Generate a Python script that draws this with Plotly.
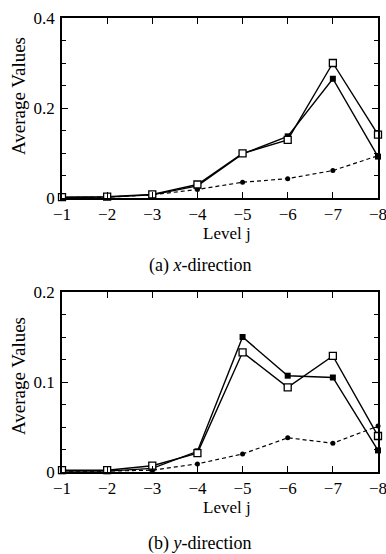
import plotly.graph_objects as go

levels = [-1, -2, -3, -4, -5, -6, -7, -8]

# (a) x-direction
xdir_open = [0.002, 0.003, 0.008, 0.030, 0.099, 0.129, 0.300, 0.141]
xdir_filled = [0.001, 0.002, 0.007, 0.027, 0.098, 0.137, 0.265, 0.092]
xdir_dashed = [0.001, 0.002, 0.007, 0.019, 0.035, 0.043, 0.061, 0.094]

# (b) y-direction
ydir_open = [0.002, 0.002, 0.007, 0.021, 0.133, 0.094, 0.129, 0.040]
ydir_filled = [0.001, 0.001, 0.004, 0.023, 0.150, 0.107, 0.105, 0.024]
ydir_dashed = [0.001, 0.001, 0.002, 0.009, 0.020, 0.038, 0.032, 0.051]

xtick_vals = levels
ytick_a = [0, 0.2, 0.4]
ytick_a_text = ["0", "0.2", "0.4"]
ytick_b = [0, 0.1, 0.2]
ytick_b_text = ["0", "0.1", "0.2"]

FONT = "Liberation Serif"
W, H = 386, 554

fig = go.Figure()

def add_series(xa, ya, op, fi, da):
    fig.add_trace(go.Scatter(x=levels, y=da, xaxis=xa, yaxis=ya, mode="lines+markers",
                             line=dict(color="black", width=1.2, dash="4px,3px"),
                             marker=dict(symbol="circle", size=5, color="black"),
                             cliponaxis=False, showlegend=False))
    fig.add_trace(go.Scatter(x=levels, y=fi, xaxis=xa, yaxis=ya, mode="lines+markers",
                             line=dict(color="black", width=1.4),
                             marker=dict(symbol="square", size=6, color="black"),
                             cliponaxis=False, showlegend=False))
    fig.add_trace(go.Scatter(x=levels, y=op, xaxis=xa, yaxis=ya, mode="lines+markers",
                             line=dict(color="black", width=1.4),
                             marker=dict(symbol="square", size=7, color="white",
                                         line=dict(color="black", width=1.3)),
                             cliponaxis=False, showlegend=False))

add_series("x", "y", xdir_open, xdir_filled, xdir_dashed)
add_series("x2", "y2", ydir_open, ydir_filled, ydir_dashed)

def py(p):
    return 1 - p / H

xdom = [62 / W, 378 / W]
common_x = dict(range=[-1, -8], tickvals=xtick_vals, ticks="inside", ticklen=6,
                tickwidth=1, tickcolor="black", showline=True, linecolor="black",
                linewidth=1.5, mirror="ticks", showgrid=False, zeroline=False,
                automargin=False, ticklabelstandoff=0, ticklabeloverflow="allow",
                tickfont=dict(family=FONT, size=17, color="black"), domain=xdom)
common_y = dict(ticks="inside", ticklen=6, tickwidth=1, tickcolor="black", showline=True,
                linecolor="black", linewidth=1.5, mirror="ticks", showgrid=False,
                zeroline=False, automargin=False, ticklabelstandoff=2,
                ticklabeloverflow="allow",
                tickfont=dict(family=FONT, size=17, color="black"))
fig.update_layout(
    xaxis=dict(**common_x, anchor="y"),
    xaxis2=dict(**common_x, anchor="y2"),
    yaxis=dict(**common_y, range=[0, 0.4], tickvals=ytick_a, ticktext=ytick_a_text,
               minor=dict(dtick=0.05, ticks="inside", ticklen=4, tickcolor="black", showgrid=False),
               domain=[py(198), py(18)], anchor="x"),
    yaxis2=dict(**common_y, range=[0, 0.2], tickvals=ytick_b, ticktext=ytick_b_text,
                minor=dict(dtick=0.025, ticks="inside", ticklen=4, tickcolor="black", showgrid=False),
                domain=[py(472), py(292)], anchor="x2"),
    width=W, height=H, margin=dict(l=0, r=0, t=0, b=0),
    paper_bgcolor="white", plot_bgcolor="white",
    font=dict(family=FONT, color="black"),
)

def ann(text, x, y, size, angle=0):
    fig.add_annotation(text=text, x=x / W, y=py(y), xref="paper", yref="paper",
                       showarrow=False, textangle=angle, xanchor="center", yanchor="middle",
                       font=dict(family=FONT, size=size, color="black"))

ann("Average Values", 18, 96, 19, -90)
ann("Average Values", 18, 376, 19, -90)
ann("Level j", 227, 233, 17)
ann("Level j", 227, 507, 17)
ann("(a) <i>x</i>-direction", 200, 266, 18)
ann("(b) <i>y</i>-direction", 200, 543, 18)

fig.write_html("out.html", config={"displayModeBar": False},
               post_script="document.body.style.margin='0';document.body.style.overflow='hidden';")
